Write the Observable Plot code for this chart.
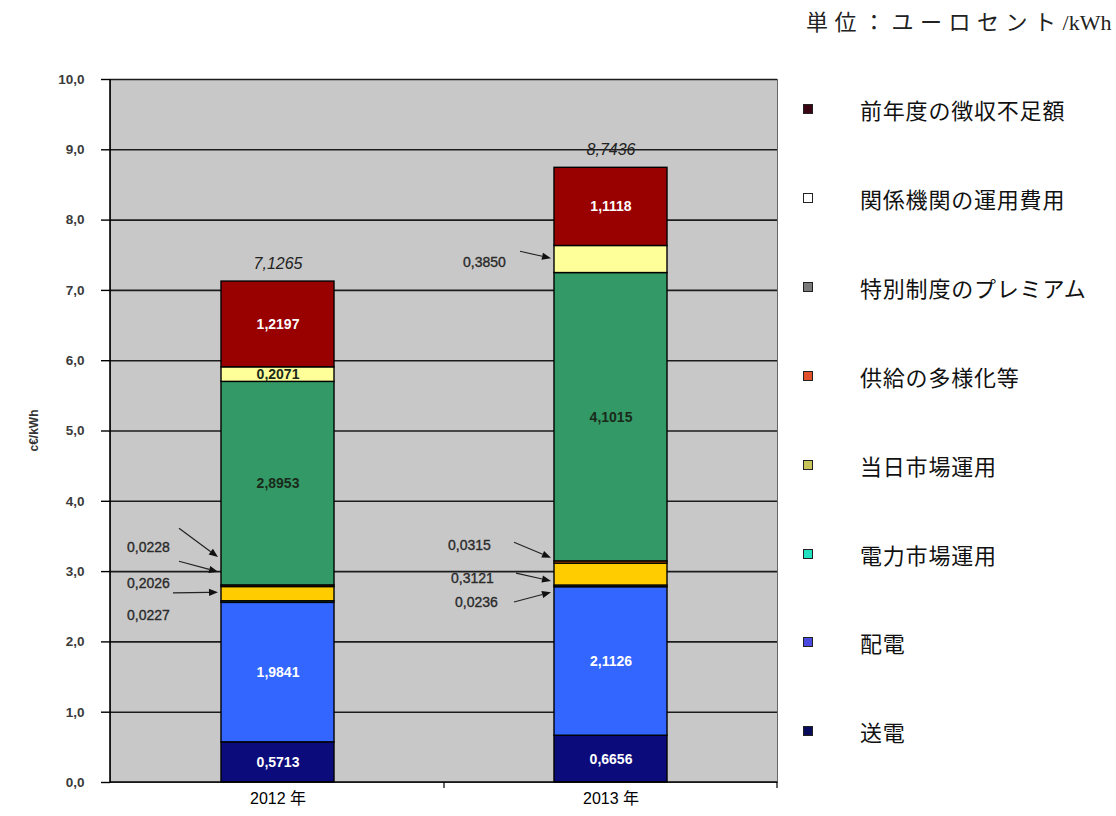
<!DOCTYPE html>
<html>
<head>
<meta charset="utf-8">
<script src="https://cdn.jsdelivr.net/npm/d3@7"></script>
<script src="https://cdn.jsdelivr.net/npm/@observablehq/plot@0.6"></script>
<style>
  body { margin: 0; background: #fff; }
  #wrap { position: relative; width: 1116px; height: 816px; overflow: hidden;
          font-family: "Liberation Sans", "Noto Sans CJK JP", sans-serif; }
  #chart { position: absolute; left: 0; top: 0; }
  #unit { position: absolute; left: 0; top: 0; }
  .lg { position: absolute; left: 0; height: 30px; line-height: 30px; font-size: 22px;
        font-family: "Noto Sans CJK JP", sans-serif; color: #111; white-space: nowrap; }
  .lg .sw { position: absolute; left: 803px; top: 10px; width: 8px; height: 8px;
            border: 1px solid #222; }
  .lg .tx { position: absolute; left: 860px; top: 0; letter-spacing: 0.8px; }
</style>
</head>
<body>
<div id="wrap">
  <div id="chart"></div>
  <svg id="unit" width="1116" height="50"></svg>
  <div id="legend"></div>
</div>
<script>
// ---------- data ----------
const years = ["2012 年", "2013 年"];
const series = ["送電", "配電", "電力市場運用", "当日市場運用", "供給の多様化等",
                "特別制度のプレミアム", "関係機関の運用費用", "前年度の徴収不足額"];
const values2012 = [0.5713, 1.9841, 0.0227, 0.2026, 0.0228, 2.8953, 0.2071, 1.2197];
const values2013 = [0.6656, 2.1126, 0.0236, 0.3121, 0.0315, 4.1015, 0.3850, 1.1118];
const totals = [7.1265, 8.7436];
const yTicks = [0, 1, 2, 3, 4, 5, 6, 7, 8, 9, 10];
const unitTextJa = "単位：ユーロセント";
const unitTextEn = "/kWh";
const yLabel = "c€/kWh";

// bar fill colours (as drawn in the bars) and legend swatch colours (as drawn in the legend)
const barColors = ["#0b0b7c", "#3366ff", "#33cccc", "#ffcc00", "#ff6600", "#339966", "#ffff99", "#990000"];
const legendColors = ["#0a0a5a", "#4a4ae0", "#22e0c0", "#c8c45a", "#e0502a", "#7a7a7a", "#ffffff", "#3a0616"];
// which segments carry their value inside the bar
const insideSeries = ["送電", "配電", "特別制度のプレミアム", "前年度の徴収不足額"];
const insideExtra = [{year: "2012 年", series: "関係機関の運用費用"}];
const lightText = ["送電", "配電", "前年度の徴収不足額"];

// call-out labels placed beside the bars (label y in c€/kWh) and their arrows
const calloutYear  = ["2012 年", "2012 年", "2012 年", "2013 年", "2013 年", "2013 年", "2013 年"];
const calloutText  = ["0,0228", "0,2026", "0,0227", "0,0315", "0,3121", "0,0236", "0,3850"];
const calloutY     = [3.34, 2.83, 2.37, 3.37, 2.90, 2.56, 7.40];
const calloutDx    = [-129, -129, -129, -141, -138, -134, -126];
const arrowYear    = ["2012 年", "2012 年", "2012 年", "2013 年", "2013 年", "2013 年", "2013 年"];
const arrowFromY   = [3.61, 3.14, 2.69, 3.41, 2.97, 2.56, 7.55];
const arrowToY     = [3.20, 2.99, 2.70, 3.19, 2.86, 2.70, 7.45];
const arrowFromDx  = [-42, -42, -48, -40, -38, -40, -34];

// ---------- derived tables ----------
const fmt = v => d3.format(".4f")(v).replace(".", ",");
const allValues = [values2012, values2013];
const rows = [];
years.forEach((yr, i) => {
  let acc = 0;
  allValues[i].forEach((v, j) => {
    rows.push({year: yr, series: series[j], value: v, mid: acc + v / 2});
    acc += v;
  });
});
const insideRows = rows.filter(r => insideSeries.includes(r.series) ||
  insideExtra.some(e => e.year === r.year && e.series === r.series));
const totalRows = years.map((yr, i) => ({year: yr, total: totals[i]}));
const callouts = calloutText.map((t, i) => ({year: calloutYear[i], text: t, y: calloutY[i], dx: calloutDx[i]}));
const arrows = arrowYear.map((yr, i) => ({year: yr, y1: arrowFromY[i], y2: arrowToY[i], dx: arrowFromDx[i]}));

const FONT = '"Liberation Sans", "Noto Sans CJK JP", sans-serif';
const INSET = 110;

// custom mark: axis lines, category boundary ticks, y label, callouts and arrows
function decorations(index, scales, values, dims) {
  const x = scales.x, y = scales.y;
  const bw = typeof x.bandwidth === "function" ? x.bandwidth() : x.bandwidth;
  const g = d3.create("svg:g");
  const left = dims.marginLeft, right = dims.width - dims.marginRight;
  const bottom = dims.height - dims.marginBottom, top = dims.marginTop;
  // axis lines
  g.append("line").attr("x1", left).attr("x2", left).attr("y1", top).attr("y2", bottom + 1)
    .attr("stroke", "#000").attr("stroke-width", 1.6);
  g.append("line").attr("x1", left).attr("x2", right).attr("y1", bottom).attr("y2", bottom)
    .attr("stroke", "#000").attr("stroke-width", 1.6);
  // category boundary ticks
  years.forEach((yr, i) => {
    const bx = x(yr) + bw;
    g.append("line").attr("x1", bx).attr("x2", bx).attr("y1", bottom).attr("y2", bottom + 6)
      .attr("stroke", "#000").attr("stroke-width", 1.2);
  });
  // y label
  g.append("text").attr("transform", `translate(34,${(top + bottom) / 2}) rotate(-90)`)
    .attr("text-anchor", "middle").attr("dy", "0.35em").attr("font-size", 12).attr("font-weight", "bold")
    .attr("fill", "#333").attr("font-family", FONT).text(yLabel);
  // callout labels
  callouts.forEach(c => {
    const cx = x(c.year) + bw / 2 + c.dx;
    g.append("text").attr("x", cx).attr("y", y(c.y)).attr("dy", "0.35em")
      .attr("text-anchor", "middle").attr("font-size", 14).attr("font-family", FONT)
      .attr("fill", "#2a2a2a").attr("stroke", "#2a2a2a").attr("stroke-width", 0.35).text(c.text);
  });
  // arrows
  arrows.forEach(a => {
    const bl = x(a.year) + INSET;
    const x1 = bl + a.dx, y1 = y(a.y1), x2 = bl - 3, y2 = y(a.y2);
    const ang = Math.atan2(y2 - y1, x2 - x1);
    const L = 9, W = 3.6;
    const bx = x2 - L * Math.cos(ang), by = y2 - L * Math.sin(ang);
    g.append("line").attr("x1", x1).attr("y1", y1).attr("x2", bx).attr("y2", by)
      .attr("stroke", "#222").attr("stroke-width", 1.2);
    const px = -Math.sin(ang) * W, py = Math.cos(ang) * W;
    g.append("path").attr("d", `M${x2},${y2}L${bx + px},${by + py}L${bx - px},${by - py}Z`)
      .attr("fill", "#111");
  });
  return g.node();
}

const chart = Plot.plot({
  width: 800,
  height: 816,
  marginLeft: 110,
  marginRight: 23,
  marginTop: 79,
  marginBottom: 34,
  style: {fontFamily: FONT, background: "transparent", color: "#000"},
  x: {domain: years, padding: 0, axis: null, label: null},
  y: {domain: [0, 10], axis: null, label: null},
  color: {domain: series, range: barColors},
  marks: [
    Plot.frame({fill: "#c8c8c8", stroke: "#666", strokeWidth: 1}),
    Plot.ruleY(yTicks.slice(1), {stroke: "#1c1c1c", strokeWidth: 1.6}),
    Plot.barY(rows, {x: "year", y: "value", fill: "series", stroke: "#000", strokeWidth: 1.4,
                     insetLeft: INSET, insetRight: INSET}),
    Plot.text(insideRows, {x: "year", y: "mid", text: d => fmt(d.value),
                           fill: d => lightText.includes(d.series) ? "#fff" : "#1a2a1a",
                           fontSize: 14, fontWeight: "bold"}),
    Plot.text(totalRows, {x: "year", y: "total", text: d => fmt(d.total), dy: -18,
                          fontSize: 16, fontStyle: "italic", fill: "#222"}),
    Plot.axisY(yTicks, {tickFormat: d => d3.format(".1f")(d).replace(".", ","),
                        tickSize: 9, tickPadding: 17, fontSize: 13.5, fontWeight: "bold",
                        fill: "#3a3a3a", stroke: "#000", strokeWidth: 1.4, label: null}),
    Plot.axisX({tickSize: 0, tickPadding: 10, fontSize: 16, fill: "#000", label: null}),
    decorations
  ]
});
document.getElementById("chart").appendChild(chart);

// unit label
const ut = d3.select("#unit").append("text").attr("x", 806).attr("y", 30)
  .attr("font-size", 22).attr("font-family", '"Liberation Serif", "Noto Sans CJK JP", serif')
  .attr("fill", "#222");
ut.append("tspan").attr("letter-spacing", "6.5px").text(unitTextJa);
ut.append("tspan").text(unitTextEn);

// legend (top to bottom = reverse of stacking order)
const legend = d3.select("#legend");
const order = series.map((s, i) => i).reverse();
order.forEach((si, k) => {
  const cy = 109 + k * 88.9;
  const row = legend.append("div").attr("class", "lg").style("top", (cy - 15) + "px");
  row.append("div").attr("class", "sw").style("background", legendColors[si]);
  row.append("div").attr("class", "tx").text(series[si]);
});
</script>
</body>
</html>
